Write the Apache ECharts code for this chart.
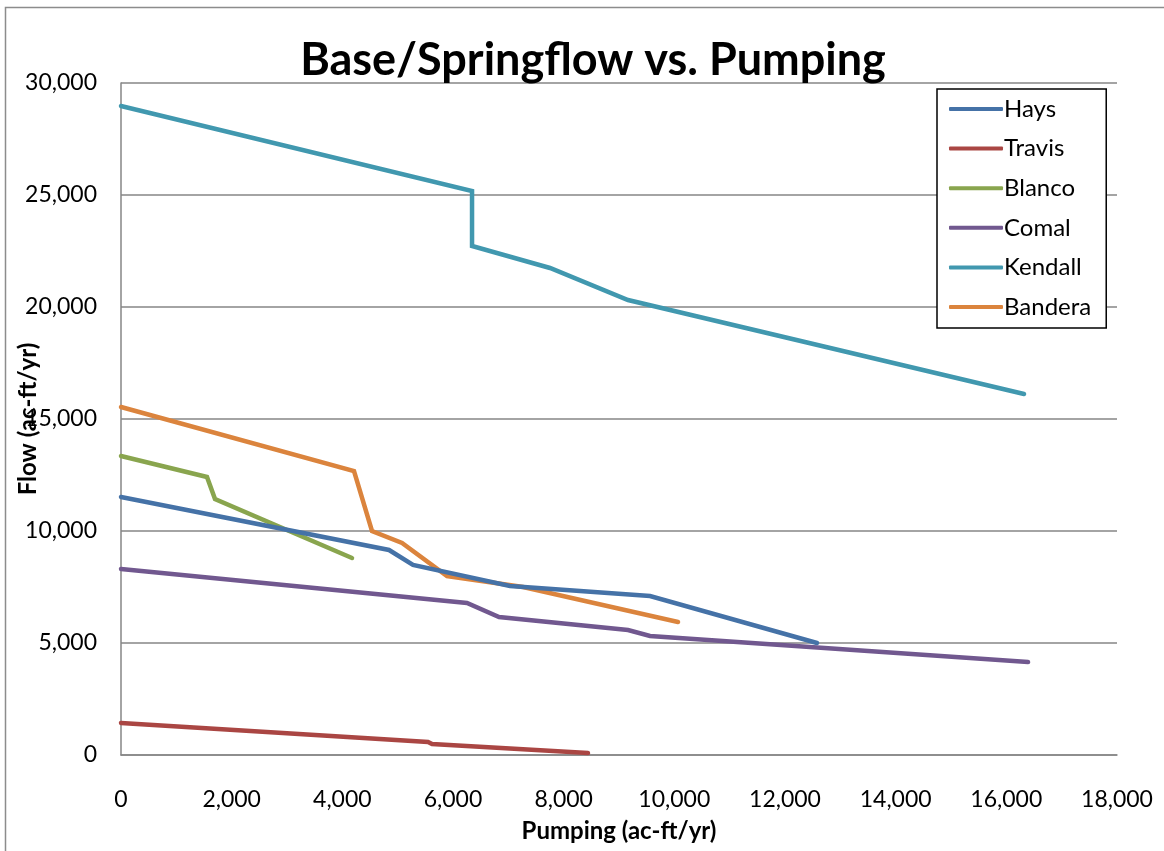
<!DOCTYPE html>
<html><head><meta charset="utf-8">
<script src="https://cdn.jsdelivr.net/npm/echarts@6/dist/echarts.min.js"></script>
<style>html,body{margin:0;padding:0;background:#fff}#c{width:1164px;height:851px}</style>
</head><body><div id="c"></div>
<script>
const seriesNames = ["Hays","Travis","Blanco","Comal","Kendall","Bandera"];
const haysX = [0, 4844, 5277, 7030, 9561, 12579];
const haysY = [11518, 9152, 8482, 7545, 7098, 5000];
const travisX = [0, 5549, 5621, 8440];
const travisY = [1429, 580, 491, 89];
const blancoX = [0, 1554, 1699, 4175];
const blancoY = [13348, 12411, 11429, 8795];
const comalX = [0, 6253, 6832, 9163, 9561, 16393];
const comalY = [8304, 6786, 6161, 5580, 5313, 4152];
const kendallX = [0, 6344, 6344, 7753, 9163, 16320];
const kendallY = [28973, 25179, 22723, 21741, 20313, 16116];
const banderaX = [0, 4211, 4536, 5079, 5892, 7266, 10067];
const banderaY = [15536, 12679, 10000, 9464, 7991, 7500, 5938];
const xTicks = [0,2000,4000,6000,8000,10000,12000,14000,16000,18000];
const yTicks = [0,5000,10000,15000,20000,25000,30000];
const colors = ["#4572A7","#AA4643","#89A54E","#71588F","#4198AF","#DB843D"];

const xs = [haysX, travisX, blancoX, comalX, kendallX, banderaX];
const ys = [haysY, travisY, blancoY, comalY, kendallY, banderaY];
const FONT = "Lato, 'Open Sans', sans-serif";
const fmt = v => Number(v).toLocaleString('en-US');

const chart = echarts.init(document.getElementById('c'), null, {renderer:'canvas'});
chart.setOption({
  animation:false,
  backgroundColor:'#fff',
  color: colors,
  title:{text:'Base/Springflow vs. Pumping', left:588, top:33, textAlign:'center',
    textStyle:{fontFamily:FONT, fontSize:45, fontWeight:'bold', color:'#000'}},
  graphic:[{type:'rect', shape:{x:5.5,y:7.5,width:1200,height:900}, style:{fill:'none', stroke:'#8c8c8c', lineWidth:1.5}, silent:true}],
  legend:{
    orient:'vertical', left:937, top:89,
    data: seriesNames, itemWidth:54, itemHeight:4, itemGap:15.6,
    padding:[8,15,9,12],
    borderColor:'#000', borderWidth:1.5, backgroundColor:'#fff',
    icon:'roundRect',
    textStyle:{fontFamily:FONT, fontSize:24, lineHeight:24, color:'#000', padding:[0,0,0,-4]}
  },
  grid:{left:121, top:83, right:47, bottom:96, containLabel:false, outerBoundsMode:'none'},
  xAxis:{type:'value', min:0, max:18000, interval:2000,
    name:'Pumping (ac-ft/yr)', nameLocation:'middle', nameGap:64, nameMoveOverlap:false,
    nameTextStyle:{fontFamily:FONT, fontSize:24, fontWeight:'bold', color:'#000'},
    axisLine:{show:true, lineStyle:{color:'#868686', width:1.5}},
    axisTick:{show:false}, splitLine:{show:false},
    axisLabel:{fontFamily:FONT, fontSize:23, color:'#000', margin:33, formatter:fmt}
  },
  yAxis:{type:'value', min:0, max:30000, interval:5000,
    name:'Flow (ac-ft/yr)', nameLocation:'middle', nameGap:81, nameRotate:90, nameMoveOverlap:false,
    nameTextStyle:{fontFamily:FONT, fontSize:24, fontWeight:'bold', color:'#000'},
    axisLine:{show:true, lineStyle:{color:'#868686', width:1.5}},
    axisTick:{show:false},
    splitLine:{show:true, lineStyle:{color:'#868686', width:1.5}},
    axisLabel:{fontFamily:FONT, fontSize:23, color:'#000', margin:24, formatter:fmt}
  },
  series: seriesNames.map((n,i)=>({
    name:n, type:'line', showSymbol:false, symbol:'none',
    data: xs[i].map((x,j)=>[x, ys[i][j]]),
    lineStyle:{width:4.5, color:colors[i], cap:'round', join:'miter'},
    itemStyle:{color:colors[i]},
    z: 2 + (5-i)
  }))
});
</script></body></html>
